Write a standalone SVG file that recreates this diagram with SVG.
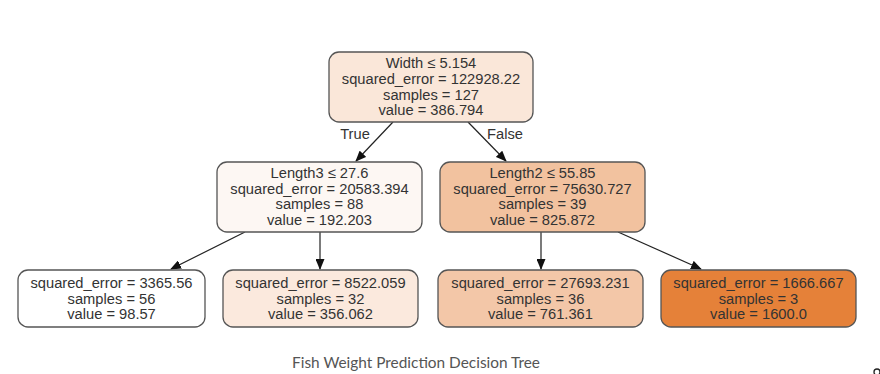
<svg xmlns="http://www.w3.org/2000/svg" width="880" height="374" viewBox="0 0 880 374">
<defs>
<marker id="arr" markerWidth="11" markerHeight="9" refX="10" refY="4.5" orient="auto" markerUnits="userSpaceOnUse">
<path d="M0,0 L11,4.5 L0,9 Z" fill="#111"/>
</marker>
<style>
.n rect{stroke:#555;stroke-width:1.3}
.n text{font-family:"Liberation Sans",Arial,sans-serif;font-size:14.7px;fill:#333;text-anchor:middle}
.e line{stroke:#222;stroke-width:1.2;marker-end:url(#arr)}
.lbl{font-family:"Liberation Sans",Arial,sans-serif;font-size:14.7px;fill:#333;text-anchor:middle}
.cap{font-family:Lato,"Liberation Sans",sans-serif;font-size:15.4px;fill:#555;text-anchor:middle}
</style>
</defs>
<rect width="880" height="374" fill="#fff"/>
<g id="connectors" class="e">
<line x1="393" y1="122" x2="356" y2="161"/>
<line x1="468" y1="122" x2="506" y2="161"/>
<line x1="245" y1="232" x2="171" y2="269"/>
<line x1="320" y1="232" x2="320" y2="269"/>
<line x1="541" y1="232" x2="541" y2="269"/>
<line x1="618" y1="232" x2="701" y2="269"/>
<text class="lbl" x="355" y="139">True</text>
<text class="lbl" x="505" y="139">False</text>
</g>
<g id="root" class="n">
<rect x="329" y="52" width="204" height="70" rx="10" fill="#fae7d9"/>
<text x="431" y="68">Width ≤ 5.154</text>
<text x="431" y="84">squared_error = 122928.22</text>
<text x="431" y="99.5">samples = 127</text>
<text x="431" y="115">value = 386.794</text>
</g>
<g id="n_length3" class="n">
<rect x="217" y="162" width="205" height="70" rx="10" fill="#fdf7f3"/>
<text x="319.5" y="177.5">Length3 ≤ 27.6</text>
<text x="319.5" y="193.5">squared_error = 20583.394</text>
<text x="319.5" y="209">samples = 88</text>
<text x="319.5" y="224.5">value = 192.203</text>
</g>
<g id="n_length2" class="n">
<rect x="440" y="162" width="205" height="70" rx="10" fill="#f2c29f"/>
<text x="542.5" y="177.5">Length2 ≤ 55.85</text>
<text x="542.5" y="193.5">squared_error = 75630.727</text>
<text x="542.5" y="209">samples = 39</text>
<text x="542.5" y="224.5">value = 825.872</text>
</g>
<g id="leaf1" class="n">
<rect x="18" y="270" width="187" height="57" rx="10" fill="#ffffff"/>
<text x="111.5" y="288">squared_error = 3365.56</text>
<text x="111.5" y="303.5">samples = 56</text>
<text x="111.5" y="319">value = 98.57</text>
</g>
<g id="leaf2" class="n">
<rect x="223" y="270" width="195" height="57" rx="10" fill="#fbe9dd"/>
<text x="320.5" y="288">squared_error = 8522.059</text>
<text x="320.5" y="303.5">samples = 32</text>
<text x="320.5" y="319">value = 356.062</text>
</g>
<g id="leaf3" class="n">
<rect x="438" y="270" width="205" height="57" rx="10" fill="#f3c7a8"/>
<text x="540.5" y="288">squared_error = 27693.231</text>
<text x="540.5" y="303.5">samples = 36</text>
<text x="540.5" y="319">value = 761.361</text>
</g>
<g id="leaf4" class="n">
<rect x="661" y="270" width="195" height="57" rx="10" fill="#e58139"/>
<text x="758.5" y="288">squared_error = 1666.667</text>
<text x="758.5" y="303.5">samples = 3</text>
<text x="758.5" y="319">value = 1600.0</text>
</g>
<text class="cap" x="416" y="368">Fish Weight Prediction Decision Tree</text>
<circle cx="877" cy="372" r="3" fill="none" stroke="#222" stroke-width="1.3"/>
</svg>
